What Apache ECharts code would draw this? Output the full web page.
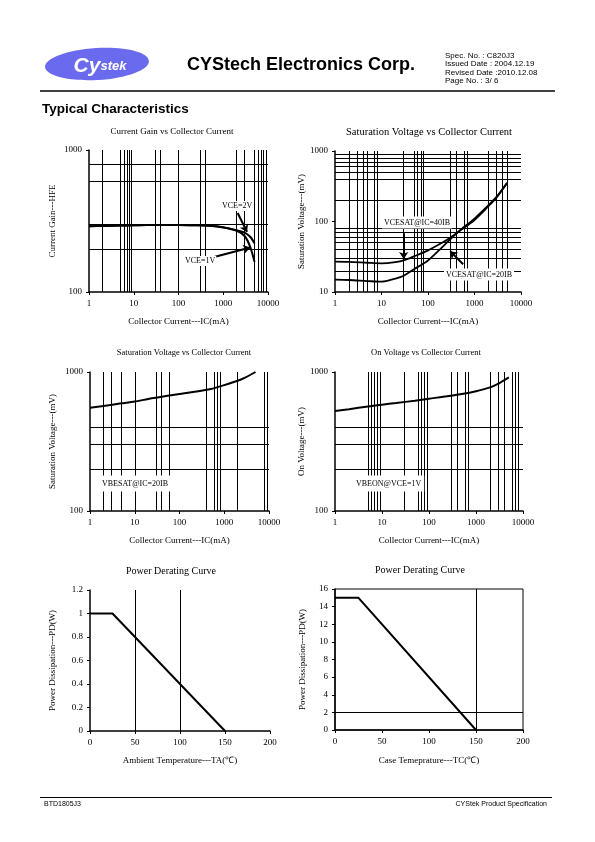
<!DOCTYPE html>
<html><head><meta charset="utf-8">
<script src="https://cdn.jsdelivr.net/npm/echarts@6/dist/echarts.min.js"></script>
<style>html,body{margin:0;padding:0;background:#fff}#c{width:595px;height:842px}</style>
</head><body><div id="c"></div><script>
// ---------- data ----------
// Chart 1: Current Gain vs Collector Current
const icGain   = [1, 2, 5, 10, 20, 50, 100, 200, 500, 1000, 2000, 3000, 4000, 5000];
const hfeVce2V = [290, 292, 294, 295, 296, 296, 296, 295, 293, 286, 272, 262, 245, 220];
const hfeVce1V = [290, 292, 294, 295, 296, 296, 296, 295, 293, 285, 270, 248, 208, 163];
const gainGridX = [2, 5, 6, 7, 8, 9, 30, 40, 100, 300, 400, 2000, 3000, 5000, 6000, 7000, 8000, 9000];
const gainGridY = [200, 300, 600, 800];

// Chart 2: Saturation Voltage (VCE) vs Collector Current
const icVce     = [1, 2, 5, 10, 20, 30, 50, 100, 200, 300, 500, 1000, 2000, 3000, 5000];
const vceSat40  = [27, 26.8, 26, 25.5, 26.5, 28, 32, 39, 50, 59, 75, 105, 165, 220, 350];
const vceSat20  = [15, 14.8, 14.3, 14, 15.5, 17, 21, 28, 43, 56, 76, 110, 170, 225, 355];
const vceGridX = [2, 3, 4, 5, 7, 8, 30, 50, 60, 70, 80, 300, 400, 600, 700, 2000, 3000, 4000, 5000];
const vceGridY = [20, 30, 40, 50, 60, 70, 80, 200, 400, 500, 600, 700, 800, 900];

// Chart 3: Saturation Voltage (VBE) vs Collector Current
const icVbeSat = [1, 2, 5, 10, 20, 50, 100, 200, 500, 1000, 2000, 3000, 5000];
const vbeSat   = [553, 570, 595, 613, 640, 672, 695, 718, 755, 805, 865, 915, 1000];
const vbeSatGridX = [2, 3, 5, 10, 30, 40, 60, 400, 600, 700, 800, 2000, 8000, 9000];
const vbeSatGridY = [200, 300, 400];

// Chart 4: On Voltage vs Collector Current
const icVbeOn = [1, 2, 5, 10, 20, 50, 100, 200, 500, 1000, 2000, 3000, 5000];
const vbeOn   = [524, 540, 565, 582, 598, 622, 643, 663, 695, 728, 775, 825, 915];
const vbeOnGridX = [5, 6, 7, 8, 9, 30, 60, 70, 80, 90, 300, 400, 600, 700, 2000, 3000, 4000, 6000, 7000, 8000];
const vbeOnGridY = [200, 300, 400];

// Chart 5: Power derating (ambient)
const taTemp  = [0, 25, 150];
const taPower = [1, 1, 0];
const taGridX = [50, 100];

// Chart 6: Power derating (case)
const tcTemp  = [0, 25, 150];
const tcPower = [15, 15, 0];
const tcGridX = [150];
const tcGridY = [2];

// annotation arrows (data coordinates: [from], [to])
const arrowGain2V = [[2100, 360], [3400, 265]];
const arrowGain1V = [[570, 175], [4000, 206]];
const arrowSat40  = [[30, 68], [30, 29.5]];
const arrowSat20  = [[570, 24.7], [300, 38]];

// ---------- helpers ----------
const SERIF = "'Liberation Serif','Times New Roman',serif";
const SANS = "'Liberation Sans',Arial,sans-serif";
const zip = (a, b) => a.map((v, i) => [v, b[i]]);

function axis(o) {
  return Object.assign({
    axisLine: {show: true, onZero: false, lineStyle: {color: '#000', width: 1.5}},
    axisTick: {show: true, length: 3, lineStyle: {color: '#000', width: 1}},
    splitLine: {show: false},
    axisLabel: {color: '#000', fontFamily: SERIF, fontSize: 9, margin: 7},
    nameTextStyle: {color: '#000', fontFamily: SERIF, fontSize: 9},
    nameLocation: 'middle'
  }, o);
}
function logX(gi, gap) {
  return axis({type: 'log', logBase: 10, min: 1, max: 10000, gridIndex: gi,
    name: 'Collector Current---IC(mA)', nameGap: gap,
    axisLabel: {color: '#000', fontFamily: SERIF, fontSize: 9, margin: 7, formatter: v => String(Math.round(v))}});
}
function logY(gi, min, max, name, gap) {
  return axis({type: 'log', logBase: 10, min, max, gridIndex: gi, name, nameGap: gap,
    axisLabel: {color: '#000', fontFamily: SERIF, fontSize: 9, margin: 7, formatter: v => String(Math.round(v))}});
}
function gridSeries(i, xs, ys) {
  return {type: 'line', xAxisIndex: i, yAxisIndex: i, data: [], silent: true, z: 1,
    markLine: {silent: true, symbol: 'none', animation: false, label: {show: false},
      lineStyle: {color: '#000', width: 1, type: 'solid'}, emphasis: {disabled: true},
      data: xs.map(v => ({xAxis: v})).concat(ys.map(v => ({yAxis: v})))}};
}
function curve(i, name, data, w, smooth) {
  return {type: 'line', name, xAxisIndex: i, yAxisIndex: i, data, showSymbol: false, symbol: 'none',
    smooth: smooth, z: 3, lineStyle: {color: '#000', width: w}, animation: false, silent: true};
}
function arrows(i, list) {
  return {type: 'line', xAxisIndex: i, yAxisIndex: i, data: [], silent: true, z: 5,
    markLine: {silent: true, symbol: ['none', 'arrow'], symbolSize: 7, animation: false, label: {show: false},
      lineStyle: {color: '#000', width: 2, type: 'solid'}, emphasis: {disabled: true},
      data: list.map(a => [{coord: a[0]}, {coord: a[1]}])}};
}
function txt(s, x, y, size, o) {
  o = o || {};
  return {type: 'text', x, y, z: 100, silent: true,
    style: Object.assign({text: s, font: (o.weight || 'normal') + ' ' + size + 'px ' + (o.family || SERIF),
      fill: o.fill || '#000', align: o.align || 'center', verticalAlign: 'middle'}, o.style || {})};
}
function box(s, x, y, size, pad) {
  return txt(s, x, y, size, {align: 'left', style: {backgroundColor: '#fff', padding: pad || [2, 2]}});
}

// ---------- chart ----------
const chart = echarts.init(document.getElementById('c'), null, {renderer: 'canvas'});
chart.setOption({
  animation: false,
  backgroundColor: '#fff',
  grid: [
    {left: 89, top: 150, width: 179, height: 142},
    {left: 335, top: 151, width: 186, height: 141},
    {left: 90, top: 372, width: 179, height: 139},
    {left: 335, top: 372, width: 188, height: 139},
    {left: 90, top: 590, width: 180, height: 141},
    {left: 335, top: 589, width: 188, height: 141, show: true, borderColor: '#000', borderWidth: 1}
  ],
  xAxis: [
    logX(0, 25), logX(1, 25), logX(2, 25), logX(3, 25),
    axis({type: 'value', gridIndex: 4, min: 0, max: 200, interval: 50, name: 'Ambient Temperature---TA(\u2103)', nameGap: 25}),
    axis({type: 'value', gridIndex: 5, min: 0, max: 200, interval: 50, name: 'Case Temeprature---TC(\u2103)', nameGap: 26})
  ],
  yAxis: [
    logY(0, 100, 1000, 'Current Gain---HFE', 32),
    logY(1, 10, 1000, 'Saturation Voltage---(mV)', 27),
    logY(2, 100, 1000, 'Saturation Voltage---(mV)', 33),
    logY(3, 100, 1000, 'On Voltage---(mV)', 27),
    axis({type: 'value', gridIndex: 4, min: 0, max: 1.2, interval: 0.2, name: 'Power Dissipation---PD(W)', nameGap: 33}),
    axis({type: 'value', gridIndex: 5, min: 0, max: 16, interval: 2, name: 'Power Dissipation---PD(W)', nameGap: 28})
  ],
  series: [
    gridSeries(0, gainGridX, gainGridY),
    curve(0, 'VCE=2V', zip(icGain, hfeVce2V), 2, 0.3),
    curve(0, 'VCE=1V', zip(icGain, hfeVce1V), 2, 0.3),
    arrows(0, [arrowGain2V, arrowGain1V]),

    gridSeries(1, vceGridX, vceGridY),
    curve(1, 'VCESAT@IC=40IB', zip(icVce, vceSat40), 1.8, 0.3),
    curve(1, 'VCESAT@IC=20IB', zip(icVce, vceSat20), 1.8, 0.3),
    arrows(1, [arrowSat40, arrowSat20]),

    gridSeries(2, vbeSatGridX, vbeSatGridY),
    curve(2, 'VBESAT@IC=20IB', zip(icVbeSat, vbeSat), 2, 0.3),

    gridSeries(3, vbeOnGridX, vbeOnGridY),
    curve(3, 'VBEON@VCE=1V', zip(icVbeOn, vbeOn), 2, 0.3),

    gridSeries(4, taGridX, []),
    curve(4, 'PD(TA)', zip(taTemp, taPower), 2, false),

    gridSeries(5, tcGridX, tcGridY),
    curve(5, 'PD(TC)', zip(tcTemp, tcPower), 2, false)
  ],
  graphic: [
    // header
    {type: 'ellipse', z: 90, silent: true, x: 97, y: 64, rotation: 0.06, shape: {cx: 0, cy: 0, rx: 52, ry: 16}, style: {fill: '#6a6aee'}},
    {type: 'text', z: 100, silent: true, x: 100, y: 66, style: {
      text: '{a|Cy}{b|stek}', align: 'center', verticalAlign: 'middle',
      rich: {a: {font: 'bold italic 21px ' + SANS, fill: '#fff'}, b: {font: 'bold italic 13px ' + SANS, fill: '#fff'}}}},
    txt('CYStech Electronics Corp.', 187, 65.5, 18, {weight: 'bold', family: SANS, align: 'left'}),
    txt('Spec. No. : C820J3', 445, 55.5, 8, {family: SANS, align: 'left'}),
    txt('Issued Date : 2004.12.19', 445, 64, 8, {family: SANS, align: 'left'}),
    txt('Revised Date :2010.12.08', 445, 72.5, 8, {family: SANS, align: 'left'}),
    txt('Page No. : 3/ 6', 445, 81, 8, {family: SANS, align: 'left'}),
    {type: 'line', z: 100, silent: true, shape: {x1: 40, y1: 91, x2: 555, y2: 91}, style: {stroke: '#000', lineWidth: 1.5}},
    txt('Typical Characteristics', 42, 109.5, 13.5, {weight: 'bold', family: SANS, align: 'left'}),
    // chart titles
    txt('Current Gain vs Collector Current', 172, 132, 9),
    txt('Saturation Voltage vs Collector Current', 429, 132.5, 10.5),
    txt('Saturation Voltage vs Collector Current', 184, 352.5, 8.5),
    txt('On Voltage vs Collector Current', 426, 352.5, 8.5),
    txt('Power Derating Curve', 171, 571.5, 10),
    txt('Power Derating Curve', 420, 570, 10),
    // annotations
    box('VCE=2V', 221, 206, 8, [1, 1]),
    box('VCE=1V', 184, 261, 8, [1, 1]),
    box('VCESAT@IC=40IB', 382, 222.5, 8, [2, 2]),
    box('VCESAT@IC=20IB', 444, 274.5, 8, [2, 2]),
    box('VBESAT@IC=20IB', 99, 483.5, 8, [4, 3]),
    box('VBEON@VCE=1V', 353, 483.5, 8, [4, 3]),
    // footer
    {type: 'line', z: 100, silent: true, shape: {x1: 40, y1: 797.5, x2: 552, y2: 797.5}, style: {stroke: '#000', lineWidth: 1}},
    txt('BTD1805J3', 44, 804, 7, {family: SANS, align: 'left'}),
    txt('CYStek Product Specification', 547, 804, 7, {family: SANS, align: 'right'})
  ]
});
</script></body></html>
